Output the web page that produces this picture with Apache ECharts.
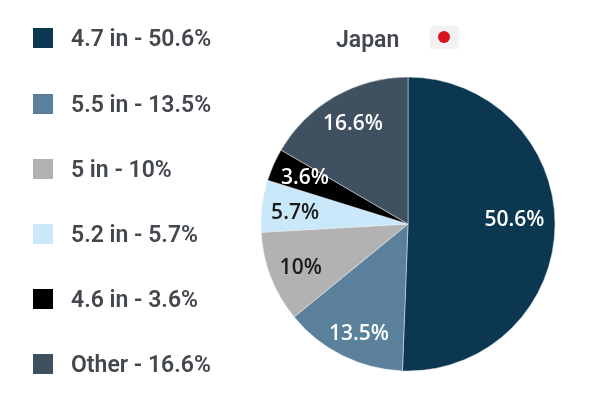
<!DOCTYPE html>
<html><head><meta charset="utf-8">
<style>html,body{margin:0;padding:0;background:#fff}#c{width:600px;height:401px}</style>
<script src="https://cdn.jsdelivr.net/npm/echarts@6/dist/echarts.min.js"></script>
</head><body><div id="c"></div>
<script>
const categories=['4.7 in','5.5 in','5 in','5.2 in','4.6 in','Other'];
const values=[50.6,13.5,10,5.7,3.6,16.6];
const colors=['#0b3750','#5a809b','#b2b2b2','#c9e9fb','#000000','#3f5060'];
const labelColors=['#fff','#fff','#1a1a1a','#1a1a1a','#fff','#fff'];
const legendY=[38,104,169,234,299,364];
const labelDx=[30,-15,-36,-37,-33,-17];
const labelDy=[-5,42,16,-2,-15,-34];
const font='"Roboto","Open Sans",sans-serif';
const chart=echarts.init(document.getElementById('c'),null,{renderer:'canvas'});
const graphic=[];
categories.forEach((c,i)=>{
  graphic.push({type:'rect',left:33,top:legendY[i]-10,shape:{width:20,height:20},style:{fill:colors[i]}});
  graphic.push({type:'text',left:71,top:legendY[i]-9,style:{text:c+' - '+values[i]+'%',fill:'#43484e',font:'600 23px '+font}});
});
graphic.push({type:'text',left:336,top:30,style:{text:'Japan',fill:'#43484e',font:'600 23px '+font}});
graphic.push({type:'rect',left:431,top:27,shape:{width:27,height:21},style:{fill:'#f3f1f1',shadowBlur:2,shadowColor:'rgba(0,0,0,0.15)'}});
graphic.push({type:'circle',left:438,top:31,shape:{r:6},style:{fill:'#d8141f'}});
chart.setOption({
  animation:false,
  graphic,
  series:[{type:'pie',center:[408,224],radius:[0,147],startAngle:90,clockwise:true,
    data:categories.map((c,i)=>({name:c,value:values[i],itemStyle:{color:colors[i]},
      label:{formatter:values[i]+'%',color:labelColors[i]}})),
    itemStyle:{borderColor:'#e8edf0',borderWidth:0.5},
    label:{position:'inside',fontFamily:'"Open Sans",sans-serif',fontWeight:600,fontSize:21},
    labelLayout:p=>({dx:labelDx[p.dataIndex],dy:labelDy[p.dataIndex]}),
    labelLine:{show:false}
  }]
});
</script></body></html>
